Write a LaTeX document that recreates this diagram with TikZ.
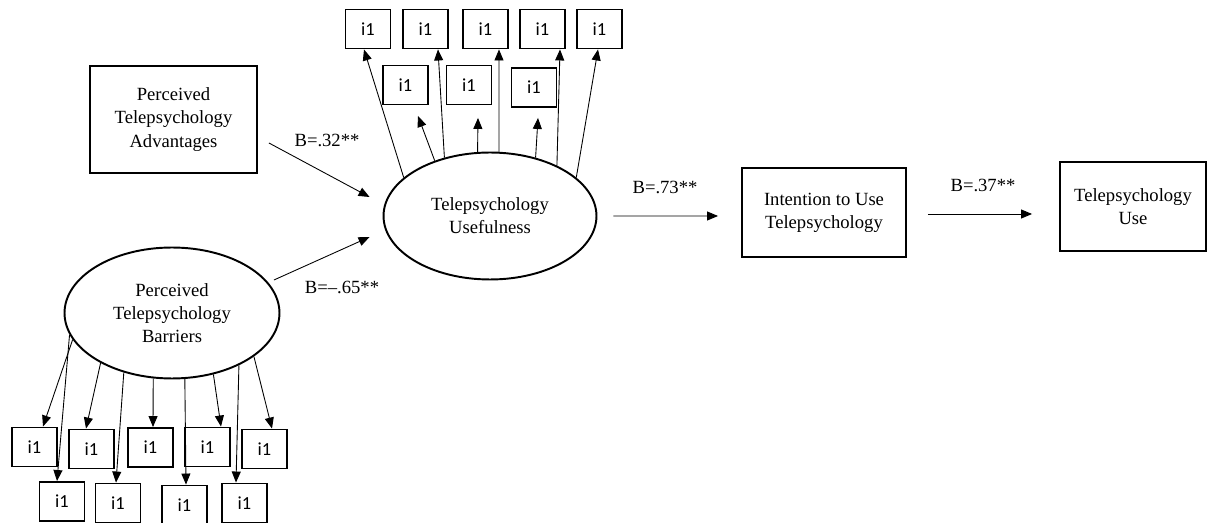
\documentclass[tikz,border=0pt]{standalone}
\usepackage{fontspec}
\setmainfont{Liberation Serif}
\newfontfamily\itemfont{Carlito}
\usetikzlibrary{shapes.geometric,arrows.meta,calc}
\tikzset{
  latent/.style={draw,ellipse,line width=1.1pt,align=center,inner sep=0pt},
  factor/.style={draw,rectangle,line width=1.1pt,align=center,inner sep=0pt},
  indicator/.style={draw,rectangle,line width=1.1pt,minimum width=0.9cm,minimum height=0.78cm,inner sep=0pt,font=\itemfont\fontsize{10.5}{12}\selectfont},
  arrowline/.style={-{Triangle[length=0.22cm,width=0.18cm]},line width=0.5pt},
  coef/.style={inner sep=0pt}
}
\begin{document}
\begin{tikzpicture}[x=0.02cm,y=-0.02cm,font=\fontsize{10.6}{13.2}\selectfont]
        \useasboundingbox (0,0) rectangle (1208,523);
        % costrutti
        \node[factor,minimum width=3.34cm,minimum height=2.14cm] (adv) at (173.5,119.5) {Perceived\\Telepsychology\\Advantages};
        \node[latent,minimum width=4.26cm,minimum height=2.54cm] (useful) at (490,216) {Telepsychology\\Usefulness};
        \node[latent,minimum width=4.3cm,minimum height=2.62cm] (barr) at (172,313) {Perceived\\Telepsychology\\Barriers};
        \node[factor,minimum width=3.28cm,minimum height=1.78cm] (intent) at (824,212.5) {Intention to Use\\Telepsychology};
        \node[factor,minimum width=2.92cm,minimum height=1.78cm] (use) at (1133,206.5) {Telepsychology\\Use};
        % item usefulness
        \node[indicator] (t1) at (368,29) {i1};\node[indicator] (t2) at (425.5,29) {i1};
        \node[indicator] (t3) at (485.5,29) {i1};\node[indicator] (t4) at (542.5,29) {i1};
        \node[indicator] (t5) at (599.5,29) {i1};
        \node[indicator] (s1) at (405.5,85) {i1};\node[indicator] (s2) at (469,85) {i1};
        \node[indicator] (s3) at (534,87.5) {i1};
        % item barriers
        \node[indicator] (b1) at (34.5,447) {i1};\node[indicator] (b2) at (91.5,449) {i1};
        \node[indicator] (b3) at (150.5,447.5) {i1};\node[indicator] (b4) at (207.5,447) {i1};
        \node[indicator] (b5) at (264.5,449) {i1};
        \node[indicator] (c1) at (62,501.5) {i1};\node[indicator] (c2) at (118,503) {i1};
        \node[indicator] (c3) at (184.5,505) {i1};\node[indicator] (c4) at (244.5,503) {i1};
        % frecce usefulness
        \draw[arrowline] (useful.156) -- ($(t1.south)+(-4,0)$);
        \draw[arrowline] (useful.128.5) -- ($(t2.south)+(12.5,0)$);
        \draw[arrowline] (useful.82) -- ($(t3.south)+(13.5,0)$);
        \draw[arrowline] (useful.37) -- ($(t4.south)+(17.5,0)$);
        \draw[arrowline] (useful.24) -- ($(t5.south)+(-1.5,0)$);
        \draw[arrowline] (useful.135) -- ($(s1.south)+(12.5,10.5)$);
        \draw[arrowline] (useful.101) -- ($(s2.south)+(9,12.5)$);
        \draw[arrowline] (useful.52) -- ($(s3.south)+(4,10)$);
        % frecce barriers
        \draw[arrowline] (barr.195) -- ($(b1.north)+(8.5,0)$);
        \draw[arrowline] (barr.192.5) -- ($(c1.north)+(-5,0)$);
        \draw[arrowline] (barr.215.4) -- ($(b2.north)+(-5.5,0)$);
        \draw[arrowline] (barr.231.6) -- ($(c2.north)+(-2,0)$);
        \draw[arrowline] (barr.254.6) -- ($(b3.north)+(2.5,0)$);
        \draw[arrowline] (barr.281.5) -- ($(c3.north)+(1.5,0)$);
        \draw[arrowline] (barr.304.5) -- ($(b4.north)+(13.5,0)$);
        \draw[arrowline] (barr.322.7) -- ($(c4.north)+(-8.5,0)$);
        \draw[arrowline] (barr.332.6) -- ($(b5.north)+(7.5,0)$);
        % percorsi strutturali
        \draw[arrowline] ($(adv.east)+(11,23.5)$) -- ($(useful.west)+(-13,-19)$);
        \draw[arrowline] ($(barr.east)+(-6.5,-33)$) -- ($(useful.west)+(-13,21)$);
        \draw[arrowline] ($(useful.east)+(16,0)$) -- ($(intent.west)+(-23,3.5)$);
        \draw[arrowline] ($(intent.east)+(21,1.5)$) -- ($(use.west)+(-27,7.5)$);
        % coefficienti
        \node[coef] (k1) at (327,140) {B=.32**};
        \node[coef] (k2) at (342,287) {B=--.65**};
        \node[coef] (k3) at (665,187) {B=.73**};
        \node[coef] (k4) at (983,185) {B=.37**};
\end{tikzpicture}
\end{document}
